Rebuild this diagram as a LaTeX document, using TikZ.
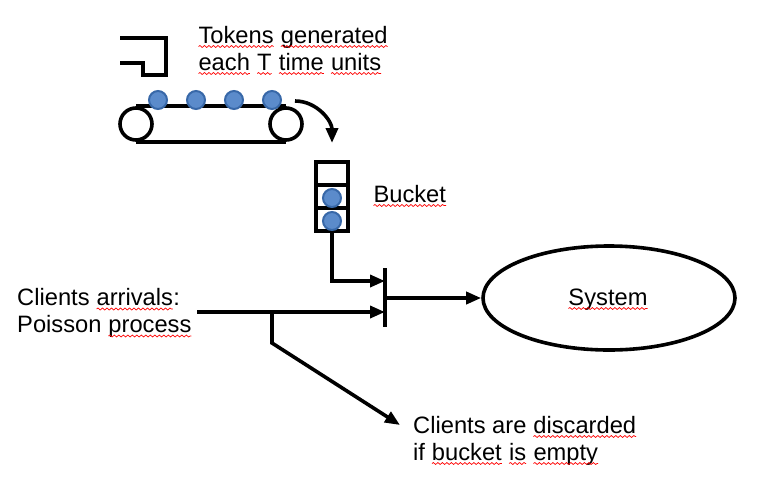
\documentclass[tikz,border=0pt]{standalone}
\usepackage{fontspec}
\setmainfont{Liberation Sans}
\usepackage{xcolor}
\usetikzlibrary{
    positioning,
    arrows.meta,
    shapes.geometric,
    decorations.pathmorphing,
}
\definecolor{tokenfill}{HTML}{5B8BCB}
\definecolor{tokenedge}{HTML}{3868A8}
% red wavy spell-check underline
\newcommand{\spell}[1]{\tikz[baseline=(sp.base)]{%
    \node[inner sep=0pt, outer sep=0pt] (sp) {#1};
    \draw[squiggle] ([yshift=-3.5pt]sp.base west) -- ([yshift=-3.5pt]sp.base east);}}
\tikzset{
    % Basic node styles
    roller/.style={circle, draw, minimum size=32pt, inner sep=0pt},
    token/.style={circle, draw=tokenedge, fill=tokenfill, line width=2pt,
                  minimum size=18pt, inner sep=0pt},
    cell/.style={rectangle, draw, minimum width=32pt, minimum height=23pt,
                 inner sep=0pt, outer sep=0pt},
    system/.style={ellipse, draw, minimum width=252pt, minimum height=104pt, inner sep=0pt},
    % Text styles
    txt/.style={align=left, inner sep=0pt, font=\fontsize{23.7}{27}\selectfont},
    squiggle/.style={red, line width=0.7pt, decorate,
                     decoration={snake, amplitude=1pt, segment length=4.5pt}},
    % Arrow styles
    arrow/.style={-{Triangle[length=15pt, width=12pt]}},
}

\begin{document}
\begin{tikzpicture}[x=1pt, y=-1pt, line width=3.6pt]
    \useasboundingbox (0,0) rectangle (763,485);

    % Token clock
    \draw (120,38) -- (166,38) -- (166,75) -- (143,75) -- (143,63) -- (120,63);
    \node[txt, anchor=base west] (gen) at (198,70)
        {\spell{Tokens} \spell{generated}\\\spell{each} \spell{T} \spell{time} \spell{units}};

    % Conveyor belt
    \node[roller] (rollL) at (136,124) {};
    \node[roller] (rollR) at (286,124) {};
    \draw (rollL.north) -- (rollR.north) (rollL.south) -- (rollR.south);
    \foreach \x [count=\i] in {158,196,234,272}
        \node[token] (t\i) at (\x,100) {};

    % Drop into bucket
    \coordinate (flip) at (295,101);
    \coordinate (drop) at (332,143);
    \draw[arrow] (flip) to[out=0, in=90] (drop);

    % Bucket
    \node[cell] (b1) at (332,173.5) {};
    \node[cell, below=0pt of b1] (b2) {};
    \node[cell, below=0pt of b2] (b3) {};
    \node[token] (k1) at ([yshift=-1.5pt]b2.center) {};
    \node[token] (k2) at ([yshift=-1.5pt]b3.center) {};
    \node[txt, anchor=base west] (bucket) at (373,202) {\spell{Bucket}};

    % Gate
    \coordinate (gtop) at (385,268);
    \coordinate (gbot) at (385,327);
    \coordinate (gin1) at (385,281);
    \coordinate (gin2) at (385,312);
    \coordinate (gout) at (385,298);
    \draw (gtop) -- (gbot);
    \draw[arrow] (b3.south) |- (gin1);

    % System
    \node[system] (sys) at (609,298) {};
    \node[txt, anchor=base] (systxt) at (608,305) {\spell{System}};
    \draw[arrow] (gout) -- (sys.west);

    % Client arrivals
    \node[txt, anchor=base west] (arr) at (17,332.5)
        {Clients \spell{arrivals}:\\Poisson \spell{process}};
    \coordinate (src) at (197,312);
    \coordinate (split) at (272,312);
    \coordinate (bend) at (272,343);
    \coordinate (miss) at (400,425);
    \draw[arrow] (src) -- (gin2);
    \draw[arrow] (split) -- (bend) -- (miss);
    \node[txt, anchor=base west] (disc) at (413,460)
        {Clients are \spell{discarded}\\if \spell{bucket} \spell{is} \spell{empty}};
\end{tikzpicture}
\end{document}
